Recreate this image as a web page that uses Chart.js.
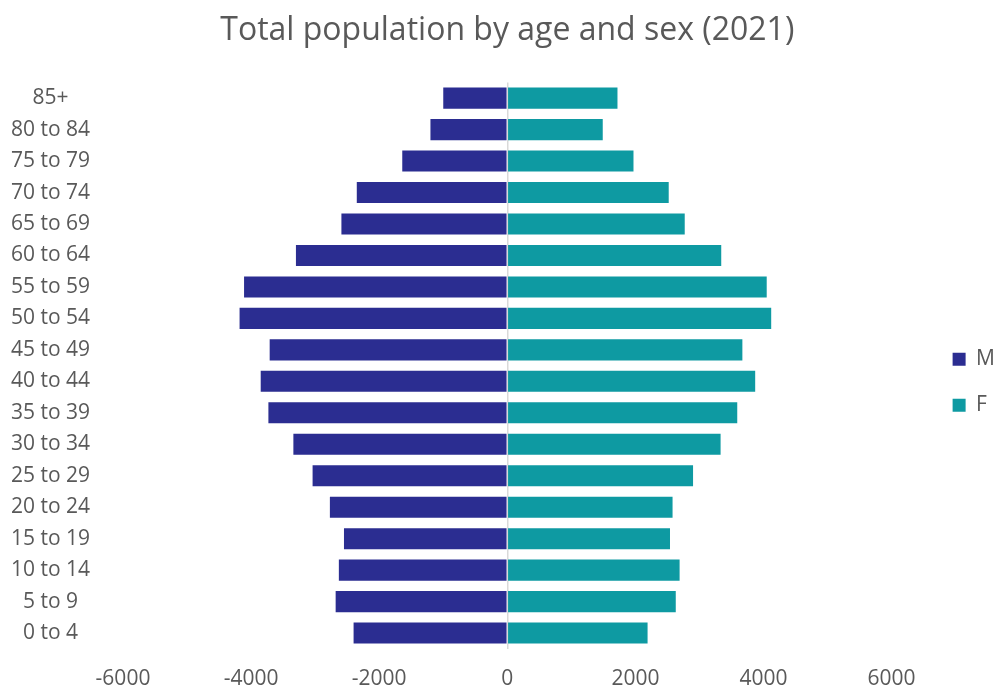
<!DOCTYPE html>
<html>
<head>
<meta charset="utf-8">
<title>Total population by age and sex (2021)</title>
<script src="https://cdn.jsdelivr.net/npm/chart.js@4.4.1/dist/chart.umd.min.js"></script>
<style>
  html, body { margin: 0; padding: 0; background: #fff; }
  #wrap { width: 998px; height: 688px; position: relative; }
</style>
</head>
<body>
<div id="wrap"><canvas id="pyramid"></canvas></div>
<script>
// --- Data: 2021 population by five-year age band ---
const ageGroups = ['0 to 4', '5 to 9', '10 to 14', '15 to 19', '20 to 24', '25 to 29',
  '30 to 34', '35 to 39', '40 to 44', '45 to 49', '50 to 54', '55 to 59',
  '60 to 64', '65 to 69', '70 to 74', '75 to 79', '80 to 84', '85+'];
const males = [2400, 2680, 2630, 2550, 2770, 3040, 3340, 3730, 3850, 3710,
  4180, 4110, 3300, 2590, 2350, 1640, 1200, 1000];
const females = [2190, 2630, 2690, 2540, 2580, 2900, 3330, 3590, 3870, 3670,
  4120, 4050, 3340, 2770, 2520, 1970, 1490, 1720];
const xTicks = [-6000, -4000, -2000, 0, 2000, 4000, 6000];

const TEXT = '#595959';
const FONT = "'Open Sans', 'Noto Sans', sans-serif";

// Legend sits at the far right, centred on the space under the title,
// without taking width away from the plot
const legendNudge = {
  id: 'legendNudge',
  afterLayout(chart) {
    const lg = chart.legend;
    if (!lg) return;
    const dx = chart.width + 7 - lg.right;
    const dy = (chart.chartArea.top + chart.height) / 2 - (lg.top + lg.bottom) / 2 - 3;
    lg.left += dx;
    lg.right += dx;
    lg.top += dy;
    lg.bottom += dy;
  },
};

new Chart(document.getElementById('pyramid'), {
  type: 'bar',
  data: {
    labels: ageGroups,
    datasets: [
      {
        label: 'M',
        data: males.map((v) => -v),
        backgroundColor: '#2B2D91',
        barPercentage: 0.67,
        categoryPercentage: 1,
      },
      {
        label: 'F',
        data: females,
        backgroundColor: '#0E9AA2',
        barPercentage: 0.67,
        categoryPercentage: 1,
      },
    ],
  },
  plugins: [legendNudge],
  options: {
    indexAxis: 'y',
    responsive: true,
    maintainAspectRatio: false,
    animation: false,
    // x tick padding counts twice in the axis height, hence the negative bottom
    layout: { padding: { left: 10, right: 29, top: 0, bottom: -22 } },
    plugins: {
      title: {
        display: true,
        text: 'Total population by age and sex (2021)',
        color: TEXT,
        font: { family: FONT, size: 32, weight: 'normal' },
        padding: { top: 12, bottom: 32 },
        fullSize: false,
      },
      legend: {
        position: 'right',
        labels: {
          boxWidth: 13,
          boxHeight: 13,
          padding: 25,
          color: TEXT,
          font: { family: FONT, size: 21 },
        },
      },
      tooltip: {
        callbacks: {
          label: (item) => item.dataset.label + ': ' + Math.abs(item.parsed.x),
        },
      },
    },
    scales: {
      x: {
        stacked: true,
        min: -6000,
        max: 6000,
        afterBuildTicks: (axis) => {
          axis.ticks = xTicks.map((v) => ({ value: v }));
        },
        border: { display: false },
        grid: {
          drawTicks: false,
          color: (ctx) => (ctx.tick && ctx.tick.value === 0 ? '#D9D9D9' : 'rgba(0,0,0,0)'),
          lineWidth: 1.5,
        },
        ticks: {
          padding: 18,
          color: TEXT,
          font: { family: FONT, size: 21 },
          callback: (v) => String(v),
        },
      },
      y: {
        stacked: true,
        reverse: true,
        border: { display: false },
        grid: { display: false, drawTicks: false },
        afterFit: (axis) => {
          // fixed label column; the large tick padding only serves to
          // centre the labels, so keep it out of the vertical layout
          axis.width = 113;
          axis.paddingTop = 0;
          axis.paddingBottom = 0;
        },
        ticks: {
          crossAlign: 'center',
          padding: 33,
          color: TEXT,
          font: { family: FONT, size: 21 },
        },
      },
    },
  },
});
</script>
</body>
</html>
